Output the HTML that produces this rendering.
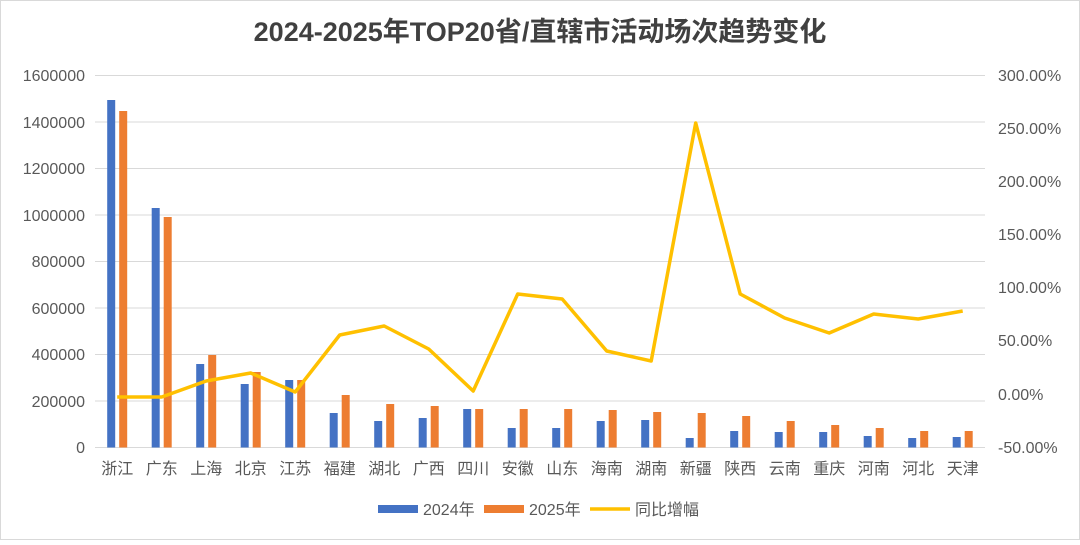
<!DOCTYPE html>
<html><head><meta charset="utf-8"><style>
body{margin:0;background:#fff;}
svg text{font-family:"Liberation Sans","Noto Sans CJK SC",sans-serif;fill:#595959;}
</style></head><body>
<svg width="1080" height="540" xmlns="http://www.w3.org/2000/svg">
<rect x="0.5" y="0.5" width="1079" height="539" fill="#fff" stroke="#d9d9d9"/>
<text x="540" y="41" text-anchor="middle" font-size="27" font-weight="bold" style="fill:#404040">2024-2025年TOP20省/直辖市活动场次趋势变化</text>
<g stroke="#d9d9d9" stroke-width="1">
<line x1="95" x2="985" y1="75.5" y2="75.5"/><line x1="95" x2="985" y1="122" y2="122"/>
<line x1="95" x2="985" y1="168.5" y2="168.5"/><line x1="95" x2="985" y1="215" y2="215"/>
<line x1="95" x2="985" y1="261.5" y2="261.5"/><line x1="95" x2="985" y1="308" y2="308"/>
<line x1="95" x2="985" y1="354.5" y2="354.5"/><line x1="95" x2="985" y1="401" y2="401"/>
<line x1="95" x2="985" y1="447.5" y2="447.5"/>
</g>
<g font-size="16" text-anchor="end">
<text x="85" y="81">1600000</text><text x="85" y="128">1400000</text><text x="85" y="174">1200000</text>
<text x="85" y="221">1000000</text><text x="85" y="267">800000</text><text x="85" y="314">600000</text>
<text x="85" y="360">400000</text><text x="85" y="407">200000</text><text x="85" y="453">0</text>
</g>
<g font-size="16" text-anchor="start">
<text x="998" y="81">300.00%</text><text x="998" y="134">250.00%</text><text x="998" y="187">200.00%</text>
<text x="998" y="240">150.00%</text><text x="998" y="293">100.00%</text><text x="998" y="346">50.00%</text>
<text x="998" y="400">0.00%</text><text x="998" y="453">-50.00%</text>
</g>
<g id="bars"></g>
<g font-size="16" text-anchor="middle" id="cats"></g>
<polyline id="ln" fill="none" stroke="#FFC000" stroke-width="3.5" stroke-linejoin="round"/>
<g font-size="16">
<rect x="378" y="505" width="40" height="8" fill="#4472C4"/><text x="423" y="515" style="fill:#595959">2024年</text>
<rect x="484" y="505" width="40" height="8" fill="#ED7D31"/><text x="529" y="515">2025年</text>
<line x1="590" x2="630" y1="509" y2="509" stroke="#FFC000" stroke-width="3.5"/><text x="635" y="515">同比增幅</text>
</g>
<script>
var cats=["浙江","广东","上海","北京","江苏","福建","湖北","广西","四川","安徽","山东","海南","湖南","新疆","陕西","云南","重庆","河南","河北","天津"];
var b=[100,208,364,384,380,413,421,418,409,428,428,421,420,438,431,432,432,436,438,437];
var o=[111,217,355,372,380,395,404,406,409,409,409,410,412,413,416,421,425,428,431,431];
var l=[397,397,381,373,392,335,326,349,391,294,299,351,361,123,294,318,333,314,319,311];
var ns="http://www.w3.org/2000/svg",g=document.getElementById("bars"),c=document.getElementById("cats"),pts=[];
for(var i=0;i<20;i++){var x=117.2+i*44.5;
var r=document.createElementNS(ns,"rect");r.setAttribute("x",x-10);r.setAttribute("width",8);r.setAttribute("y",b[i]);r.setAttribute("height",447.5-b[i]);r.setAttribute("fill","#4472C4");g.appendChild(r);
r=document.createElementNS(ns,"rect");r.setAttribute("x",x+2);r.setAttribute("width",8);r.setAttribute("y",o[i]);r.setAttribute("height",447.5-o[i]);r.setAttribute("fill","#ED7D31");g.appendChild(r);
var t=document.createElementNS(ns,"text");t.setAttribute("x",x);t.setAttribute("y",474);t.textContent=cats[i];c.appendChild(t);
pts.push(x+","+l[i]);}
document.getElementById("ln").setAttribute("points",pts.join(" "));
</script>
</svg>
</body></html>
